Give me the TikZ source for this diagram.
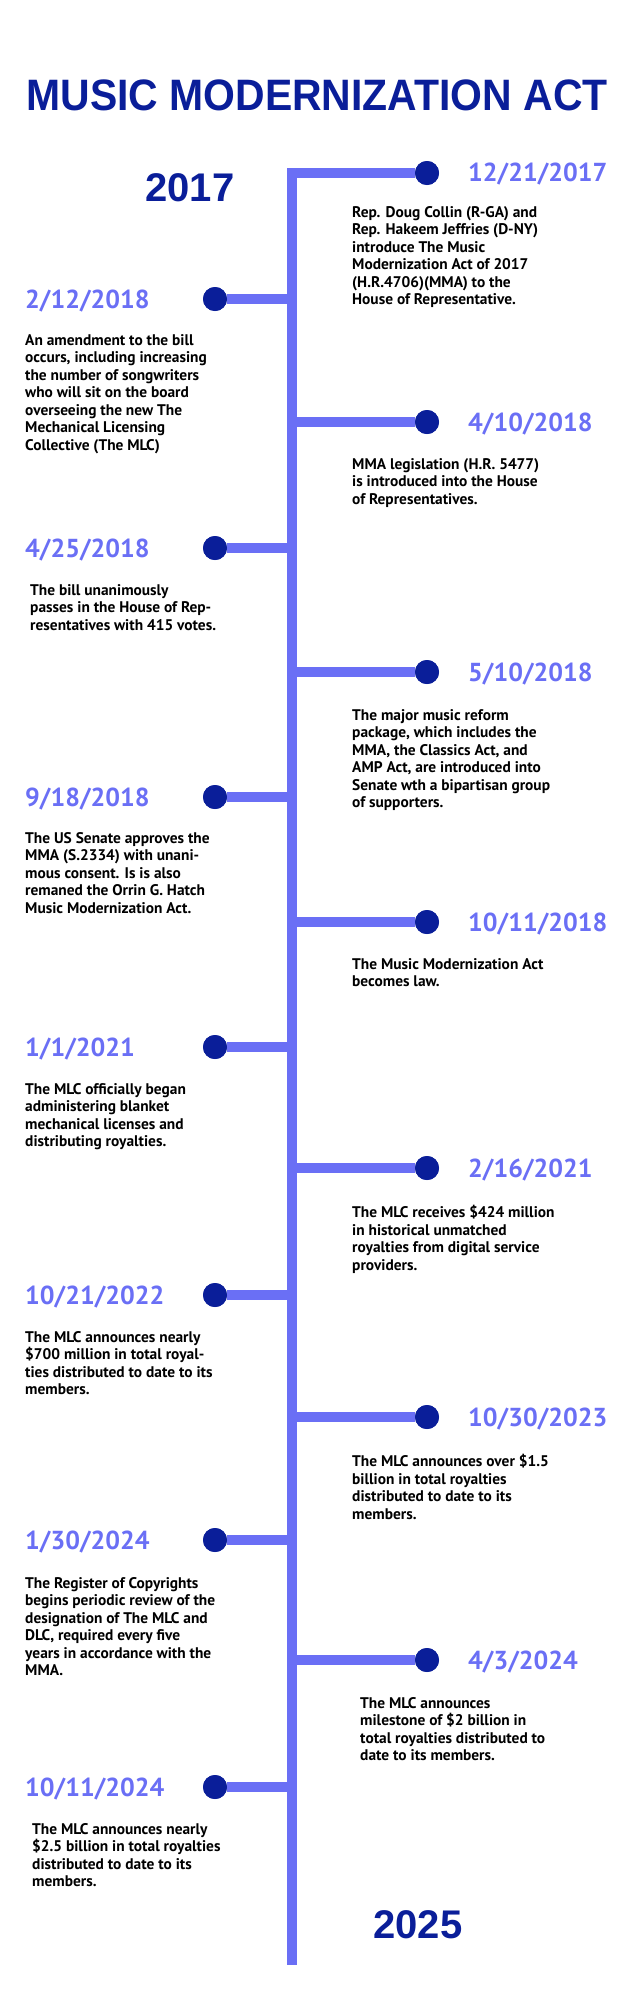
\documentclass[tikz,border=0pt]{standalone}
\usepackage{fontspec}
\setmainfont{PT Sans}
\newfontfamily\titlefont{Liberation Sans}
\definecolor{navy}{HTML}{0A1E99}
\definecolor{lilac}{HTML}{6A6FF5}
\tikzset{
  spine/.style={lilac, line width=10pt},
  dot/.style={circle, fill=navy, minimum size=24pt, inner sep=0pt},
  datelbl/.style={lilac, font=\fontsize{26}{28}\selectfont\bfseries, anchor=west, inner sep=0pt},
  txt/.style={font=\fontsize{15.4}{17.5}\selectfont\bfseries, align=left, anchor=north west, inner sep=0pt},
  year/.style={navy, font=\titlefont\fontsize{40}{40}\selectfont\bfseries, inner sep=0pt}
}
\begin{document}
\begin{tikzpicture}[x=1pt, y=-1pt]
\useasboundingbox (0,0) rectangle (635,1997);
\node[navy, font=\titlefont\fontsize{44}{46}\selectfont\bfseries, xscale=0.93] (title) at (317,95) {MUSIC MODERNIZATION ACT};
\node[year] (y17) at (190,188) {2017};
\node[year] (y25) at (418,1925) {2025};

\coordinate (bot) at (292,1965);

% right side
\node[dot] (d1) at (427,173) {};
\node[dot] (d3) at (427,422) {};
\node[dot] (d5) at (427,672) {};
\node[dot] (d7) at (427,922) {};
\node[dot] (d9) at (427,1168) {};
\node[dot] (d11) at (427,1417) {};
\node[dot] (d13) at (427,1660) {};
% left side
\node[dot] (d2) at (215,299) {};
\node[dot] (d4) at (215,548) {};
\node[dot] (d6) at (215,797) {};
\node[dot] (d8) at (215,1047) {};
\node[dot] (d10) at (215,1295) {};
\node[dot] (d12) at (215,1540) {};
\node[dot] (d14) at (215,1787) {};

\draw[spine] (d1.west) -| (bot);
\foreach \n in {3,5,7,9,11,13}
  \draw[spine] (d\n.west) -- (d\n.west -| bot);
\foreach \n in {2,4,6,8,10,12,14}
  \draw[spine] (d\n.east) -- (d\n.east -| bot);
\foreach \n in {1,...,14}
  \node[dot] at (d\n) {};

\node[datelbl] (t1) at (468,174) {12/21/2017};
\node[datelbl] (t2) at (25,301) {2/12/2018};
\node[datelbl] (t3) at (468,424) {4/10/2018};
\node[datelbl] (t4) at (25,550) {4/25/2018};
\node[datelbl] (t5) at (468,674) {5/10/2018};
\node[datelbl] (t6) at (25,799) {9/18/2018};
\node[datelbl] (t7) at (468,924) {10/11/2018};
\node[datelbl] (t8) at (25,1049) {1/1/2021};
\node[datelbl] (t9) at (468,1170) {2/16/2021};
\node[datelbl] (t10) at (25,1297) {10/21/2022};
\node[datelbl] (t11) at (468,1419) {10/30/2023};
\node[datelbl] (t12) at (25,1542) {1/30/2024};
\node[datelbl] (t13) at (468,1662) {4/3/2024};
\node[datelbl] (t14) at (25,1789) {10/11/2024};

\node[txt] (x1) at (352,206) {Rep. Doug Collin (R-GA) and\\Rep. Hakeem Jeffries (D-NY)\\introduce The Music\\Modernization Act of 2017\\(H.R.4706)(MMA) to the\\House of Representative.};
\node[txt] (x2) at (25,334) {An amendment to the bill\\occurs, including increasing\\the number of songwriters\\who will sit on the board\\overseeing the new The\\Mechanical Licensing\\Collective (The MLC)};
\node[txt] (x3) at (352,458) {MMA legislation (H.R. 5477)\\is introduced into the House\\of Representatives.};
\node[txt] (x4) at (30,584) {The bill unanimously\\passes in the House of Rep-\\resentatives with 415 votes.};
\node[txt] (x5) at (352,709) {The major music reform\\package, which includes the\\MMA, the Classics Act, and\\AMP Act, are introduced into\\Senate wth a bipartisan group\\of supporters.};
\node[txt] (x6) at (25,832) {The US Senate approves the\\MMA (S.2334) with unani-\\mous consent. Is is also\\remaned the Orrin G. Hatch\\Music Modernization Act.};
\node[txt] (x7) at (352,958) {The Music Modernization Act\\becomes law.};
\node[txt] (x8) at (25,1083) {The MLC officially began\\administering blanket\\mechanical licenses and\\distributing royalties.};
\node[txt] (x9) at (352,1205) {The MLC receives \$424 million\\in historical unmatched\\royalties from digital service\\providers.};
\node[txt] (x10) at (25,1331) {The MLC announces nearly\\\$700 million in total royal-\\ties distributed to date to its\\members.};
\node[txt] (x11) at (352,1454) {The MLC announces over \$1.5\\billion in total royalties\\distributed to date to its\\members.};
\node[txt] (x12) at (25,1577) {The Register of Copyrights\\begins periodic review of the\\designation of The MLC and\\DLC, required every five\\years in accordance with the\\MMA.};
\node[txt] (x13) at (360,1697) {The MLC announces\\milestone of \$2 billion in\\total royalties distributed to\\date to its members.};
\node[txt] (x14) at (32,1823) {The MLC announces nearly\\\$2.5 billion in total royalties\\distributed to date to its\\members.};
\end{tikzpicture}
\end{document}
